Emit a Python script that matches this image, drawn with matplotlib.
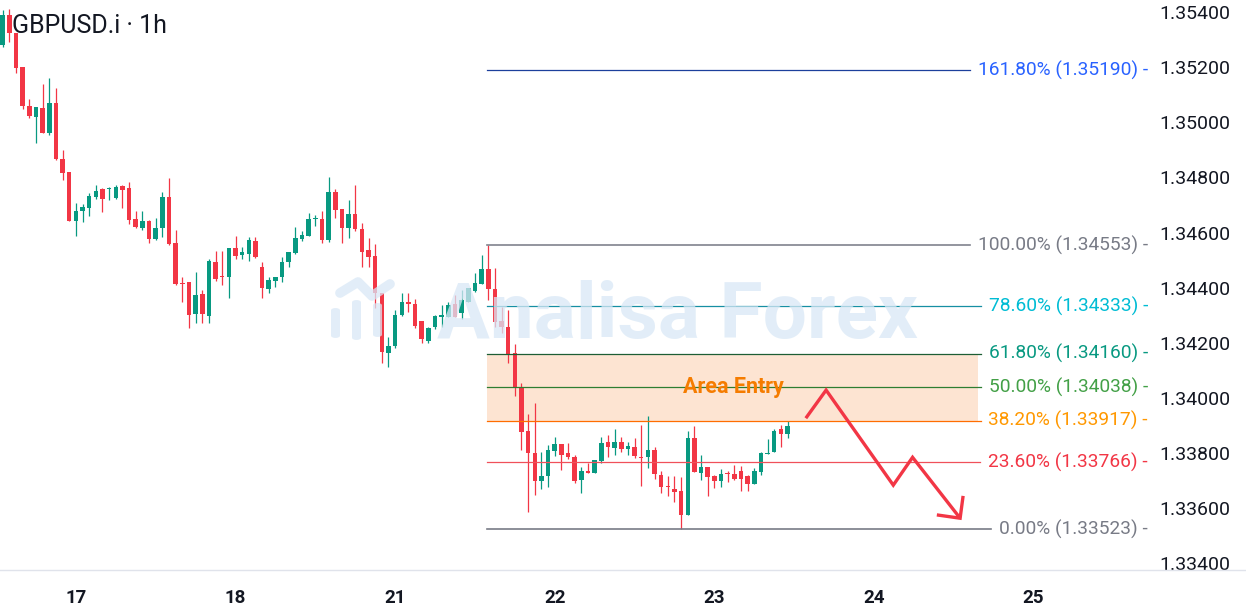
import numpy as np
import matplotlib
matplotlib.use('Agg')
import matplotlib.pyplot as plt
from matplotlib.patches import Rectangle, FancyBboxPatch
from matplotlib.lines import Line2D
import matplotlib.transforms as mtransforms

# hourly GBPUSD.i candles
opens = [1.35281, 1.35390, 1.35324, 1.35201, 1.35059, 1.35019, 1.35052, 1.34961, 1.35070, 1.34867,
         1.34820, 1.34642, 1.34678, 1.34689, 1.34729, 1.34758, 1.34758, 1.34725, 1.34769, 1.34762,
         1.34649, 1.34616, 1.34642, 1.34576, 1.34616, 1.34729, 1.34562, 1.34417, 1.34420, 1.34304,
         1.34377, 1.34297, 1.34493, 1.34442, 1.34439, 1.34544, 1.34518, 1.34522, 1.34569, 1.34475,
         1.34395, 1.34424, 1.34439, 1.34493, 1.34526, 1.34576, 1.34587, 1.34649, 1.34649, 1.34573,
         1.34747, 1.34685, 1.34616, 1.34667, 1.34613, 1.34536, 1.34515, 1.34380, 1.34163, 1.34188,
         1.34301, 1.34348, 1.34341, 1.34279, 1.34206, 1.34257, 1.34293, 1.34293, 1.34341, 1.34308,
         1.34348, 1.34388, 1.34413, 1.34468, 1.34395, 1.34279, 1.34257, 1.34163, 1.34039, 1.33879,
         1.33800, 1.33698, 1.33716, 1.33807, 1.33832, 1.33800, 1.33785, 1.33702, 1.33734, 1.33727,
         1.33771, 1.33840, 1.33818, 1.33840, 1.33814, 1.33821, 1.33785, 1.33785, 1.33811, 1.33720,
         1.33680, 1.33669, 1.33662, 1.33575, 1.33854, 1.33727, 1.33749, 1.33716, 1.33698, 1.33727,
         1.33723, 1.33734, 1.33716, 1.33687, 1.33731, 1.33796, 1.33803, 1.33887, 1.33869]
highs = [1.35408, 1.35411, 1.35324, 1.35201, 1.35085, 1.35056, 1.35139, 1.35161, 1.35125, 1.34900,
         1.34820, 1.34707, 1.34703, 1.34743, 1.34772, 1.34762, 1.34765, 1.34772, 1.34772, 1.34783,
         1.34678, 1.34678, 1.34645, 1.34653, 1.34747, 1.34798, 1.34609, 1.34439, 1.34420, 1.34457,
         1.34391, 1.34504, 1.34533, 1.34533, 1.34544, 1.34587, 1.34547, 1.34584, 1.34584, 1.34493,
         1.34439, 1.34439, 1.34511, 1.34529, 1.34620, 1.34605, 1.34671, 1.34664, 1.34678, 1.34802,
         1.34758, 1.34685, 1.34718, 1.34772, 1.34635, 1.34580, 1.34558, 1.34380, 1.34221, 1.34319,
         1.34380, 1.34380, 1.34359, 1.34279, 1.34257, 1.34301, 1.34337, 1.34348, 1.34373, 1.34391,
         1.34399, 1.34453, 1.34518, 1.34553, 1.34471, 1.34330, 1.34319, 1.34195, 1.34054, 1.33941,
         1.33981, 1.33803, 1.33829, 1.33858, 1.33832, 1.33836, 1.33792, 1.33749, 1.33763, 1.33774,
         1.33858, 1.33865, 1.33887, 1.33858, 1.33840, 1.33854, 1.33901, 1.33934, 1.33821, 1.33734,
         1.33716, 1.33716, 1.33712, 1.33879, 1.33898, 1.33792, 1.33749, 1.33720, 1.33742, 1.33734,
         1.33756, 1.33752, 1.33720, 1.33745, 1.33803, 1.33850, 1.33887, 1.33901, 1.33916]
lows = [1.35273, 1.35292, 1.35179, 1.35048, 1.35016, 1.34925, 1.34961, 1.34954, 1.34863, 1.34791,
        1.34642, 1.34587, 1.34638, 1.34660, 1.34722, 1.34674, 1.34718, 1.34722, 1.34689, 1.34631,
        1.34616, 1.34609, 1.34562, 1.34573, 1.34584, 1.34555, 1.34409, 1.34348, 1.34253, 1.34272,
        1.34272, 1.34272, 1.34424, 1.34409, 1.34362, 1.34504, 1.34504, 1.34497, 1.34508, 1.34362,
        1.34380, 1.34402, 1.34420, 1.34475, 1.34522, 1.34569, 1.34587, 1.34624, 1.34562, 1.34566,
        1.34653, 1.34562, 1.34580, 1.34605, 1.34475, 1.34475, 1.34326, 1.34126, 1.34112, 1.34181,
        1.34297, 1.34311, 1.34253, 1.34199, 1.34199, 1.34250, 1.34257, 1.34293, 1.34293, 1.34286,
        1.34348, 1.34384, 1.34413, 1.34355, 1.34257, 1.34235, 1.34126, 1.34007, 1.33811, 1.33585,
        1.33647, 1.33669, 1.33676, 1.33789, 1.33738, 1.33778, 1.33691, 1.33654, 1.33727, 1.33727,
        1.33763, 1.33785, 1.33792, 1.33803, 1.33792, 1.33781, 1.33680, 1.33745, 1.33705, 1.33654,
        1.33644, 1.33622, 1.33523, 1.33575, 1.33731, 1.33702, 1.33644, 1.33673, 1.33676, 1.33694,
        1.33702, 1.33662, 1.33662, 1.33687, 1.33720, 1.33796, 1.33803, 1.33821, 1.33854]
closes = [1.35390, 1.35324, 1.35197, 1.35059, 1.35023, 1.35056, 1.34961, 1.35070, 1.34867, 1.34816,
          1.34642, 1.34678, 1.34693, 1.34733, 1.34751, 1.34722, 1.34762, 1.34765, 1.34754, 1.34645,
          1.34620, 1.34642, 1.34576, 1.34616, 1.34729, 1.34558, 1.34413, 1.34413, 1.34301, 1.34373,
          1.34304, 1.34497, 1.34431, 1.34439, 1.34544, 1.34515, 1.34529, 1.34573, 1.34511, 1.34399,
          1.34428, 1.34439, 1.34493, 1.34529, 1.34580, 1.34591, 1.34649, 1.34653, 1.34573, 1.34747,
          1.34682, 1.34616, 1.34667, 1.34613, 1.34529, 1.34511, 1.34380, 1.34166, 1.34188, 1.34301,
          1.34348, 1.34341, 1.34261, 1.34213, 1.34253, 1.34297, 1.34301, 1.34337, 1.34293, 1.34355,
          1.34399, 1.34417, 1.34468, 1.34395, 1.34275, 1.34257, 1.34155, 1.34039, 1.33876, 1.33800,
          1.33698, 1.33716, 1.33811, 1.33832, 1.33792, 1.33785, 1.33698, 1.33734, 1.33727, 1.33774,
          1.33836, 1.33821, 1.33840, 1.33814, 1.33825, 1.33789, 1.33781, 1.33811, 1.33723, 1.33676,
          1.33676, 1.33658, 1.33575, 1.33854, 1.33731, 1.33749, 1.33712, 1.33698, 1.33723, 1.33723,
          1.33705, 1.33705, 1.33687, 1.33734, 1.33800, 1.33800, 1.33879, 1.33869, 1.33898]

# first bar of each day (bar index) and its label
day_ticks = [11, 35, 59, 83, 107, 131, 155]
day_labels = ['17', '18', '21', '22', '23', '24', '25']

# fibonacci retracement drawn from bar 73 high to bar 102 low
fib_levels = [0.0, 0.236, 0.382, 0.5, 0.618, 0.786, 1.0, 1.618]
fib_prices = [1.33523, 1.33766, 1.33917, 1.34038, 1.34160, 1.34333, 1.34553, 1.35190]
fib_start = 72.85
zone_end = 146.7

# hand drawn zigzag "sell" arrow (bar index, price)
arrow_x = [120.75, 123.8, 133.9, 136.8, 143.95]
arrow_y = [1.33926, 1.34028, 1.33683, 1.33784, 1.33563]
head_x = [140.45, 143.95, 144.4]
head_y = [1.33575, 1.33563, 1.33644]

line_cols = {0.0: '#787b86', 0.236: '#f0505a', 0.382: '#ff6d00', 0.5: '#2e7d32',
             0.618: '#1d5e34', 0.786: '#168fa3', 1.0: '#80838e', 1.618: '#1c3f9c'}
text_cols = {0.0: '#787b86', 0.236: '#f23645', 0.382: '#ff9800', 0.5: '#43a047',
             0.618: '#089981', 0.786: '#00bcd4', 1.0: '#787b86', 1.618: '#2962ff'}

plt.rcParams['font.family'] = ['Roboto', 'DejaVu Sans']

W, H = 1246, 614
fig = plt.figure(figsize=(W / 100, H / 100), dpi=100)
ax = fig.add_axes([0, 44 / H, 1150 / W, 570 / H])

o = np.array(opens)
c = np.array(closes)
x = np.arange(len(o))
up = c >= o
cols = np.where(up, '#089981', '#f23645')
body_lo = np.minimum(o, c)
body_h = np.maximum(np.abs(c - o), 0.00004)
ax.vlines(x, lows, highs, colors=cols, lw=0.9, zorder=2)
ax.bar(x, body_h, bottom=body_lo, width=0.68, color=cols, lw=0, zorder=2)

# entry zone between 38.2 and 61.8
ax.add_patch(Rectangle((fib_start, fib_prices[2]), zone_end - fib_start,
                       fib_prices[4] - fib_prices[2], facecolor='#fde4d2',
                       edgecolor='none', zorder=1))

ytr = mtransforms.blended_transform_factory(ax.transAxes, ax.transData)
fib_lines = []
fib_texts = []
for lvl, p in zip(fib_levels, fib_prices):
    lw = 1.2 if lvl in (0.0, 1.0) else 0.9
    ln, = ax.plot([fib_start, 160], [p, p], color=line_cols[lvl], lw=lw, zorder=3)
    t = ax.text(1148 / 1150, p, f'{lvl * 100:.2f}% ({p:.5f}) -', transform=ytr,
                ha='right', va='center', fontsize=13.8, color=text_cols[lvl], zorder=5)
    fib_lines.append(ln)
    fib_texts.append(t)

ax.text(109.8, 1.34040, 'Area Entry', ha='center', va='center', fontsize=15.5,
        fontweight='bold', color='#f57c00', zorder=5)

ax.plot(arrow_x, arrow_y, color='#f23645', lw=2.4, solid_joinstyle='miter',
        solid_capstyle='butt', zorder=5)
ax.plot(head_x, head_y, color='#f23645', lw=2.4, solid_joinstyle='miter',
        solid_capstyle='butt', zorder=5)

# watermark
wm = '#d9e8f6'
ax.text(437 / W, 1 - 338 / H, 'Analisa Forex', transform=fig.transFigure,
        fontsize=56.5, fontweight='bold', color=wm, alpha=0.75, va='baseline',
        ha='left', zorder=4)
for bx, by, bw, bh in [(331, 308, 9, 30), (352, 300, 9, 40), (373, 303, 9, 34)]:
    ax.add_patch(FancyBboxPatch((bx / W, 1 - (by + bh) / H), bw / W, bh / H,
                                boxstyle='round,pad=0,rounding_size=0.004',
                                transform=fig.transFigure, facecolor=wm,
                                edgecolor='none', alpha=0.75, zorder=4))
ax.plot([340 / W, 358 / W, 372 / W, 390 / W], [1 - 293 / H, 1 - 282 / H, 1 - 296 / H, 1 - 284 / H],
        transform=fig.transFigure, color=wm, lw=7, alpha=0.75, zorder=4,
        solid_capstyle='round')

ax.set_xlim(-0.41, 172.5)
ax.set_ylim(1.33375, 1.35444)

yt = np.arange(1.334, 1.3541, 0.002)
ax.set_yticks(yt, [f'{v:.5f}' for v in yt])
ax.yaxis.tick_right()
ax.tick_params(axis='y', length=0, pad=7, labelsize=14, labelcolor='#131722')
ax.set_xticks(day_ticks, day_labels)
ax.tick_params(axis='x', length=0, pad=14, labelsize=13.5, labelcolor='#131722')
for lab in ax.get_xticklabels():
    lab.set_fontweight('bold')
for s in ax.spines.values():
    s.set_visible(False)

fig.add_artist(Line2D([0, 1], [44 / H, 44 / H], transform=fig.transFigure,
                      color='#e0e3eb', lw=1))
fig.text(12 / W, 1 - 26 / H, 'GBPUSD.i \u00b7 1h', fontsize=18, color='#131722',
         va='center', ha='left')

# stop each fib line just before its label
fig.canvas.draw()
inv = ax.transData.inverted()
for ln, t in zip(fib_lines, fib_texts):
    bb = t.get_window_extent()
    xe = inv.transform((bb.x0 - 8, bb.y0))[0]
    ln.set_xdata([fib_start, xe])

fig.savefig('out.png', dpi=100)
